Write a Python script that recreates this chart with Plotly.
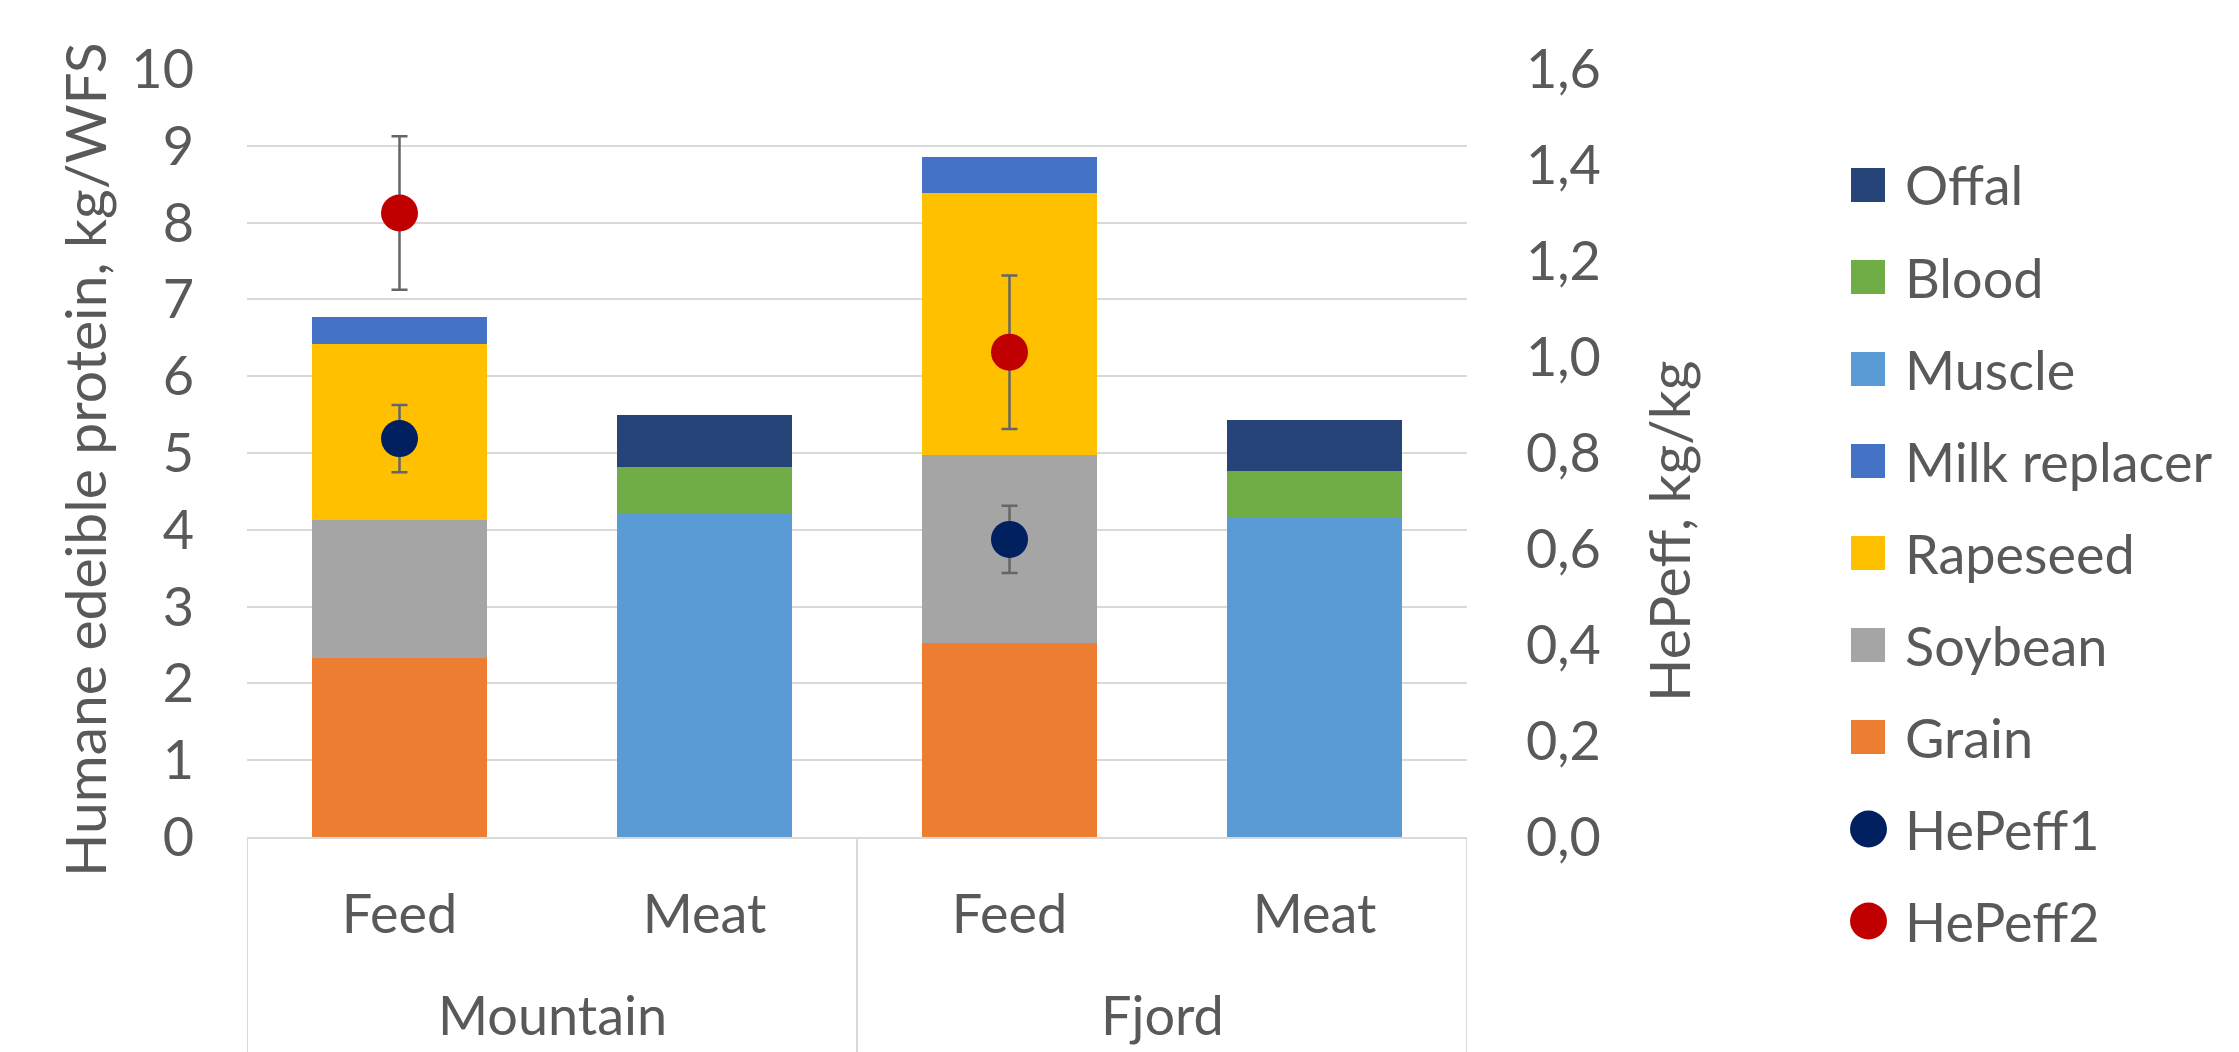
import plotly.graph_objects as go

# ---- data -------------------------------------------------------------
groups = ["Mountain", "Mountain", "Fjord", "Fjord"]
kinds = ["Feed", "Meat", "Feed", "Meat"]

grain = [2.33, None, 2.52, None]
soybean = [1.80, None, 2.45, None]
rapeseed = [2.29, None, 3.41, None]
milk_replacer = [0.35, None, 0.47, None]
muscle = [None, 4.22, None, 4.16]
blood = [None, 0.60, None, 0.60]
offal = [None, 0.68, None, 0.67]

hepeff1 = [0.83, None, 0.62, None]
hepeff1_err = [0.07, None, 0.07, None]
hepeff2 = [1.30, None, 1.01, None]
hepeff2_err = [0.16, None, 0.16, None]

left_ticks = list(range(0, 11))
right_ticks = [0.0, 0.2, 0.4, 0.6, 0.8, 1.0, 1.2, 1.4, 1.6]

# ---- styling ----------------------------------------------------------
FONT = "Lato"
TXT = "#595959"
GRID = "#d9d9d9"
W, H = 2239, 1052
ML, MR, MT, MB = 247, 772, 69, 215
PW, PH = W - ML - MR, H - MT - MB

bar_series = [
    ("Grain", grain, "#ED7D31"),
    ("Soybean", soybean, "#A5A5A5"),
    ("Rapeseed", rapeseed, "#FFC000"),
    ("Milk replacer", milk_replacer, "#4472C4"),
    ("Muscle", muscle, "#5B9BD5"),
    ("Blood", blood, "#70AD47"),
    ("Offal", offal, "#264478"),
]
dot_series = [
    ("HePeff1", hepeff1, hepeff1_err, "#002060"),
    ("HePeff2", hepeff2, hepeff2_err, "#C00000"),
]

pos = list(range(len(kinds)))

fig = go.Figure()

for name, vals, color in bar_series:
    fig.add_trace(go.Bar(
        x=pos, y=vals, name=name, marker=dict(color=color, line=dict(width=0)),
        showlegend=False, hoverinfo="skip",
    ))

for name, vals, errs, color in dot_series:
    idx = [i for i, v in enumerate(vals) if v is not None]
    fig.add_trace(go.Scatter(
        x=[pos[i] for i in idx], y=[vals[i] for i in idx], name=name,
        yaxis="y2", mode="markers",
        marker=dict(color=color, size=37, line=dict(width=0)),
        error_y=dict(type="data", array=[errs[i] for i in idx], visible=True,
                     color="#666666", thickness=2.5, width=8),
        showlegend=False, hoverinfo="skip",
    ))


def px_x(p):
    return (p - ML) / PW


def px_y(p):
    return (H - MB - p) / PH


shapes = []
annotations = []

# group dividers below the category axis
bounds = [-0.5]
for i in range(1, len(groups)):
    if groups[i] != groups[i - 1]:
        bounds.append(i - 0.5)
bounds.append(len(groups) - 0.5)
for b in bounds:
    shapes.append(dict(type="line", xref="x", yref="paper", x0=b, x1=b,
                       y0=0, y1=-0.5, line=dict(color=GRID, width=2)))

# outer group labels
seen = []
for g in groups:
    if g not in seen:
        seen.append(g)
for g in seen:
    idx = [i for i, gg in enumerate(groups) if gg == g]
    annotations.append(dict(x=sum(pos[i] for i in idx) / len(idx), xref="x",
                            y=px_y(1014), yref="paper", text=g, showarrow=False,
                            xanchor="center", yanchor="middle",
                            font=dict(family=FONT, size=54, color=TXT)))

# axis titles
annotations.append(dict(x=px_x(84), y=px_y(460), xref="paper", yref="paper",
                        text="Humane edeible protein, kg/WFS", textangle=-90,
                        showarrow=False, xanchor="center", yanchor="middle",
                        font=dict(family=FONT, size=57, color=TXT)))
annotations.append(dict(x=px_x(1668), y=px_y(532), xref="paper", yref="paper",
                        text="HePeff, kg/kg", textangle=-90,
                        showarrow=False, xanchor="center", yanchor="middle",
                        font=dict(family=FONT, size=57, color=TXT)))

# legend block
legend_items = [(n, c, "square") for n, _, c in reversed(bar_series)] + \
               [(n, c, "circle") for n, _, _, c in dot_series]
y0_leg, step = 185, 92
for k, (name, color, kind) in enumerate(legend_items):
    cy = y0_leg + k * step
    if kind == "square":
        shapes.append(dict(type="rect", xref="paper", yref="paper",
                           x0=px_x(1851), x1=px_x(1885),
                           y0=px_y(cy + 17), y1=px_y(cy - 17),
                           fillcolor=color, line=dict(width=0)))
    else:
        shapes.append(dict(type="circle", xref="paper", yref="paper",
                           x0=px_x(1850), x1=px_x(1887),
                           y0=px_y(cy + 18.5), y1=px_y(cy - 18.5),
                           fillcolor=color, line=dict(width=0)))
    annotations.append(dict(x=px_x(1903), y=px_y(cy), xref="paper", yref="paper",
                            text=name, showarrow=False, xanchor="left",
                            yanchor="middle",
                            font=dict(family=FONT, size=54, color=TXT)))

fig.update_layout(
    width=W, height=H,
    margin=dict(l=ML, r=MR, t=MT, b=MB, pad=0),
    paper_bgcolor="white", plot_bgcolor="white",
    barmode="stack", bargap=0.426,
    separators=", ",
    font=dict(family=FONT, size=54, color=TXT),
    showlegend=False,
    xaxis=dict(
        range=[-0.5, len(kinds) - 0.5], tickmode="array", tickvals=pos,
        ticktext=kinds, showgrid=False, zeroline=False,
        showline=True, linecolor=GRID, linewidth=2,
        ticks="", ticklabelstandoff=29,
        tickfont=dict(family=FONT, size=54, color=TXT),
    ),
    yaxis=dict(
        range=[0, 10], tickmode="array", tickvals=left_ticks,
        showgrid=True, gridcolor=GRID, gridwidth=2, zeroline=False,
        showline=False, ticks="", ticklabelstandoff=52,
        tickfont=dict(family=FONT, size=54, color=TXT),
    ),
    yaxis2=dict(
        range=[0, 1.6], tickmode="array", tickvals=right_ticks,
        tickformat=".1f", overlaying="y", side="right",
        showgrid=False, zeroline=False, showline=False, ticks="",
        ticklabelstandoff=58,
        tickfont=dict(family=FONT, size=54, color=TXT),
    ),
    shapes=shapes,
    annotations=annotations,
)

fig.write_html("out.html")
